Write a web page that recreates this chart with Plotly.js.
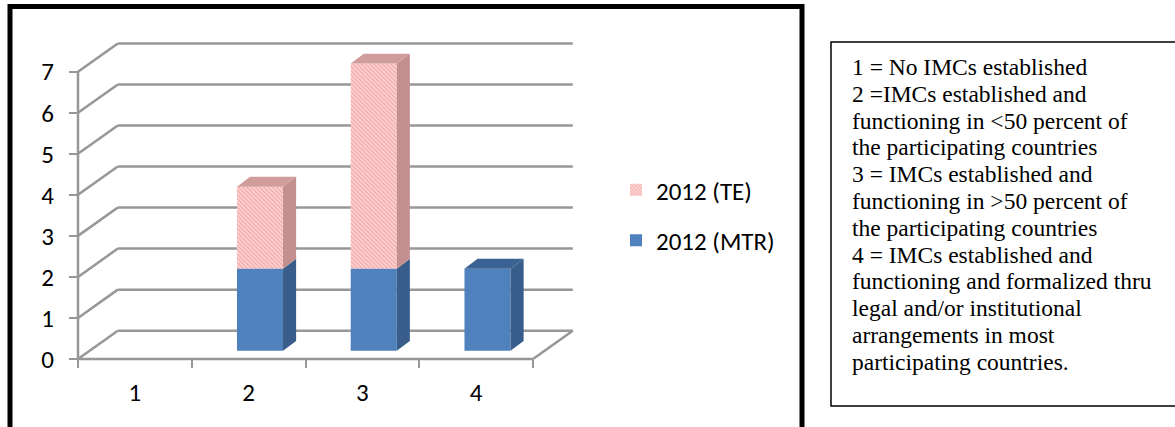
<!DOCTYPE html>
<html>
<head>
<meta charset="utf-8">
<script src="https://cdn.plot.ly/plotly-3.0.1.min.js"></script>
<style>
  html, body { margin: 0; padding: 0; background: #fff; }
  #chart { width: 1175px; height: 427px; }
</style>
</head>
<body>
<div id="chart"></div>
<script>
// ---- data ----
const categories = [1, 2, 3, 4];
const categoryLabels = ['1', '2', '3', '4'];
const mtrValues = [0, 2, 2, 2];
const teValues = [0, 2, 5, 0];
const yTicks = [0, 1, 2, 3, 4, 5, 6, 7];
const mtrName = '2012 (MTR)';
const teName = '2012 (TE)';
const scaleNotes = [
  '1 = No IMCs established',
  '2 =IMCs established and',
  'functioning in &lt;50 percent of',
  'the participating countries',
  '3 = IMCs established and',
  'functioning in &gt;50 percent of',
  'the participating countries',
  '4 = IMCs established and',
  'functioning and formalized thru',
  'legal and/or institutional',
  'arrangements in most',
  'participating countries.'
];

// ---- geometry of the page ----
const W = 1175, H = 427;
const PX_LEFT = 70, PX_RIGHT = 582, PX_TOP = 40, PX_BOTTOM = 366;   // plot area in px
const AXIS_X_PX = 78, AXIS_Y_PX = 359;                              // front corner of the floor
const CAT_PX = 113.75, UNIT_PX = 41.04;                             // px per category / per unit

const xr = [0.5 + (PX_LEFT - AXIS_X_PX) / CAT_PX, 0.5 + (PX_RIGHT - AXIS_X_PX) / CAT_PX];
const yr = [(AXIS_Y_PX - PX_BOTTOM) / UNIT_PX, (AXIS_Y_PX - PX_TOP) / UNIT_PX];

// oblique projection of the depth direction, in data units
const DEPTH_X = 0.35, DEPTH_Y = 0.69;        // back wall
const BAR_SHIFT_X = 0.10, BAR_SHIFT_Y = 0.20; // front face of the columns
const BAR_W = 0.405;
const SIDE_X = 0.115, SIDE_Y = 0.24;          // column depth

const xMin = 0.5, xMax = categories.length + 0.5;
const yMax = yTicks[yTicks.length - 1];

const BLUE = '#4f81bd', BLUE_SIDE = '#385d8a', BLUE_TOP = '#3a6292';
const PINK = '#f9c4c4', PINK_SIDE = '#c48f8f', PINK_TOP = '#d19c9c';
const GRID = '#979797';

// ---- column faces built from the series ----
function sideFaces(lo, hi) {
  const xs = [], ys = [];
  categories.forEach((c, i) => {
    if (hi[i] <= lo[i]) return;
    const xR = c + BAR_SHIFT_X + BAR_W / 2;
    const b = lo[i] + BAR_SHIFT_Y, t = hi[i] + BAR_SHIFT_Y;
    xs.push(xR, xR + SIDE_X, xR + SIDE_X, xR, null);
    ys.push(b, b + SIDE_Y, t + SIDE_Y, t, null);
  });
  return { xs, ys };
}
function topFaces(lo, hi, isTop) {
  const xs = [], ys = [];
  categories.forEach((c, i) => {
    if (hi[i] <= lo[i] || !isTop[i]) return;
    const xL = c + BAR_SHIFT_X - BAR_W / 2, xR = c + BAR_SHIFT_X + BAR_W / 2;
    const t = hi[i] + BAR_SHIFT_Y;
    xs.push(xL, xL + SIDE_X, xR + SIDE_X, xR, null);
    ys.push(t, t + SIDE_Y, t + SIDE_Y, t, null);
  });
  return { xs, ys };
}

const zeros = categories.map(() => 0);
const mtrTop = mtrValues.slice();
const teTop = mtrValues.map((m, i) => m + teValues[i]);

const mtrSide = sideFaces(zeros, mtrTop);
const teSide = sideFaces(mtrTop, teTop);
const mtrCap = topFaces(zeros, mtrTop, teValues.map(v => v === 0));
const teCap = topFaces(mtrTop, teTop, teValues.map(v => v > 0));

// side and top faces live on the overlay axis that also carries the category ticks
function face(f, color) {
  return {
    type: 'scatter', mode: 'lines', x: f.xs, y: f.ys, xaxis: 'x2', yaxis: 'y',
    fill: 'toself', fillcolor: color, line: { width: 0, color: color },
    showlegend: false, hoverinfo: 'skip'
  };
}

const traces = [
  {
    type: 'bar', name: teName, legendgroup: 'te',
    x: categories.map(c => c + BAR_SHIFT_X), y: teValues,
    base: mtrValues.map(m => m + BAR_SHIFT_Y), width: BAR_W,
    marker: {
      color: PINK, line: { width: 0 },
      pattern: { shape: '\\', fgcolor: '#f39a9a', bgcolor: '#fbd2d2', size: 3, solidity: 0.3 }
    }
  },
  {
    type: 'bar', name: mtrName, legendgroup: 'mtr',
    x: categories.map(c => c + BAR_SHIFT_X), y: mtrValues,
    base: categories.map(() => BAR_SHIFT_Y), width: BAR_W,
    marker: { color: BLUE, line: { width: 0 } }
  },
  face(mtrSide, BLUE_SIDE),
  face(teSide, PINK_SIDE),
  face(mtrCap, BLUE_TOP),
  face(teCap, PINK_TOP)
];

// ---- walls, floor and gridlines of the box ----
const shapes = [];
function seg(x0, y0, x1, y1) {
  shapes.push({ type: 'line', xref: 'x', yref: 'y', layer: 'below', x0, y0, x1, y1,
                line: { color: GRID, width: 2.5 } });
}
yTicks.forEach(v => {
  seg(xMin, v, xMin + DEPTH_X, v + DEPTH_Y);                       // side wall
  seg(xMin + DEPTH_X, v + DEPTH_Y, xMax + DEPTH_X, v + DEPTH_Y);   // back wall
});
seg(xMin, 0, xMax, 0);                                             // floor front edge
seg(xMax, 0, xMax + DEPTH_X, DEPTH_Y);                             // floor right edge
seg(xMin, 0, xMin, yMax);                                          // value axis

// outer chart frame and the note box
const px = v => v / W, py = v => 1 - v / H;
shapes.push({ type: 'rect', xref: 'paper', yref: 'paper',
  x0: px(10), x1: px(802), y0: py(6.5), y1: py(440),
  line: { color: '#000', width: 5 }, fillcolor: 'rgba(0,0,0,0)' });
shapes.push({ type: 'rect', xref: 'paper', yref: 'paper',
  x0: px(831), x1: px(1185), y0: py(42), y1: py(406),
  line: { color: '#000', width: 1.5 }, fillcolor: 'rgba(0,0,0,0)' });

const SANS = 'Carlito, Lato, sans-serif';
const SERIF = 'Liberation Serif, Times New Roman, serif';

// note lines, one annotation per line for Word-like line spacing
const NOTE_LEFT = 850, NOTE_MID0 = 67, NOTE_STEP = 26.8, NOTE_SIZE = 23.5;
const annotations = scaleNotes.map((t, i) => ({
  xref: 'paper', yref: 'paper', x: px(NOTE_LEFT), y: py(NOTE_MID0 + i * NOTE_STEP),
  xanchor: 'left', yanchor: 'middle', align: 'left', showarrow: false,
  text: t, font: { family: SERIF, size: NOTE_SIZE, color: '#000' }
}));

const layout = {
  width: W, height: H,
  margin: { l: 0, r: 0, t: 0, b: 0 },
  paper_bgcolor: '#fff', plot_bgcolor: 'rgba(0,0,0,0)',
  barmode: 'overlay',
  showlegend: true,
  xaxis: {
    domain: [px(PX_LEFT), px(PX_RIGHT)], range: xr,
    anchor: 'free', position: py(AXIS_Y_PX),
    tickmode: 'array', tickvals: categories, ticktext: categoryLabels,
    ticks: '', ticklabelstandoff: 16,
    showgrid: false, zeroline: false, showline: false,
    tickfont: { family: SANS, size: 25, color: '#000' }
  },
  xaxis2: {
    overlaying: 'x', domain: [px(PX_LEFT), px(PX_RIGHT)], range: xr,
    anchor: 'free', position: py(AXIS_Y_PX),
    tickmode: 'array', tickvals: categories.map(c => c - 0.5).concat([xMax]),
    showticklabels: false,
    ticks: 'outside', ticklen: 8, tickwidth: 2, tickcolor: GRID,
    showgrid: false, zeroline: false, showline: false
  },
  yaxis: {
    domain: [py(PX_BOTTOM), py(PX_TOP)], range: yr,
    anchor: 'free', position: px(AXIS_X_PX),
    tickmode: 'array', tickvals: yTicks,
    ticks: 'outside', ticklen: 9, tickwidth: 2, tickcolor: GRID,
    ticklabelstandoff: 10,
    showgrid: false, zeroline: false, showline: false,
    tickfont: { family: SANS, size: 25, color: '#000' }
  },
  legend: {
    x: px(616), xanchor: 'left', y: py(167), yanchor: 'top',
    traceorder: 'grouped', tracegroupgap: 15,
    font: { family: SANS, size: 25, color: '#000' },
    bgcolor: 'rgba(0,0,0,0)'
  },
  shapes: shapes,
  annotations: annotations
};

Plotly.newPlot('chart', traces, layout, { displayModeBar: false, staticPlot: true });
</script>
</body>
</html>
